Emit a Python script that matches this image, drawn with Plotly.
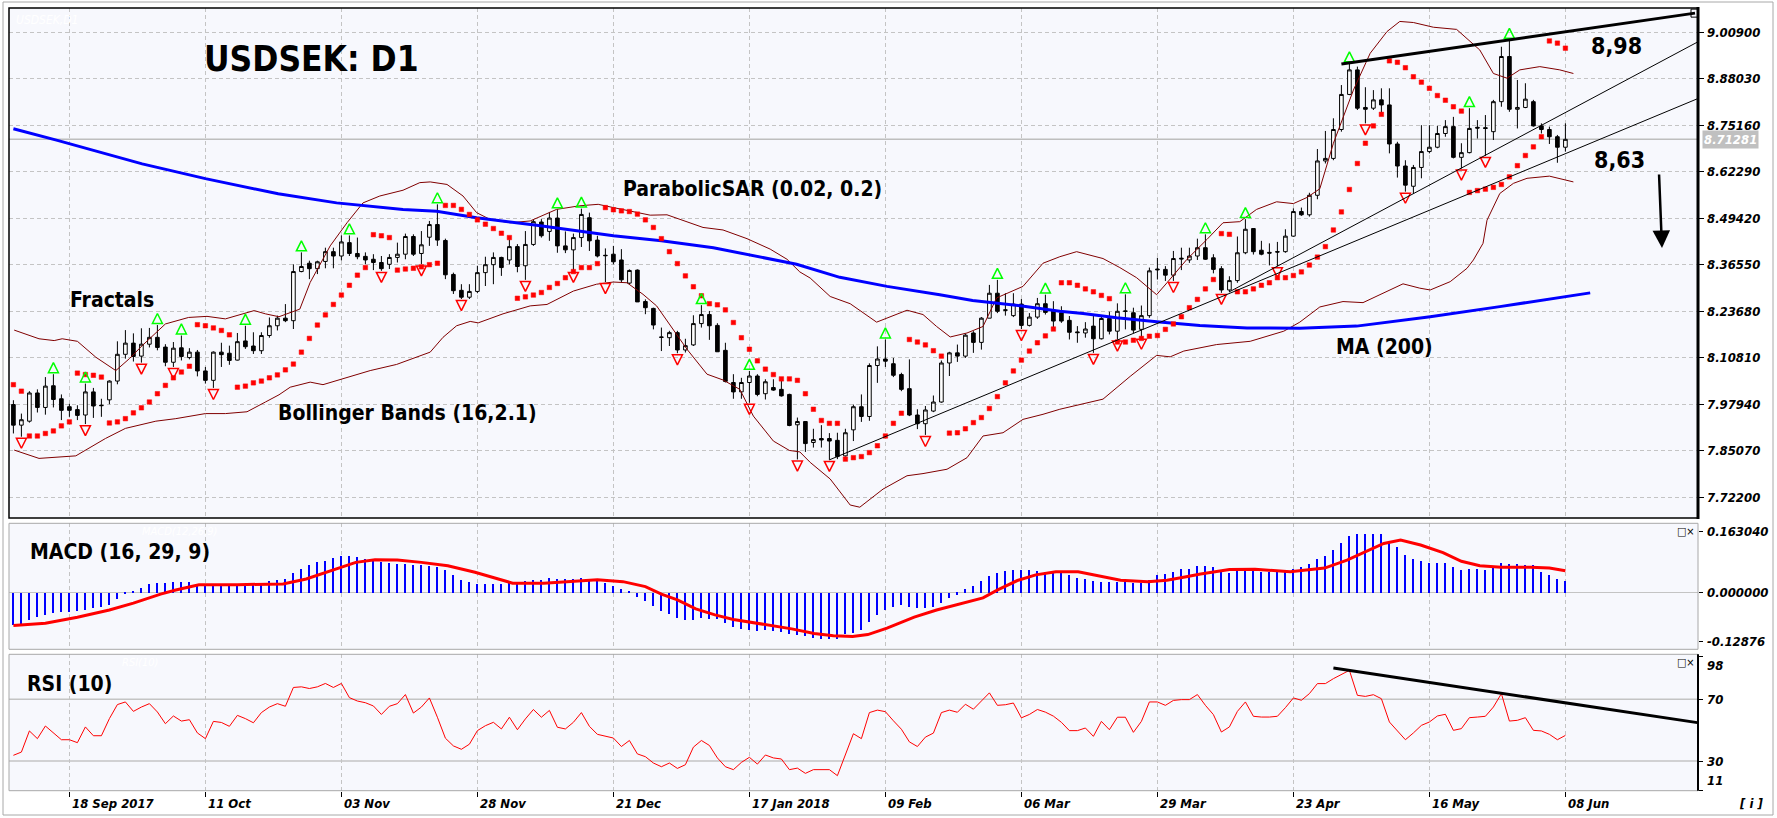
import plotly.graph_objects as go

# ---------------- DATA ----------------
opens = [
 7.979,7.922,7.933,8.011,7.971,8.031,7.995,7.973,7.965,7.950,
 8.014,7.977,7.992,8.044,8.118,8.149,8.113,8.146,8.165,8.138,
 8.096,8.136,8.109,8.124,8.072,8.046,8.124,8.121,8.102,8.155,
 8.141,8.128,8.170,8.197,8.218,8.211,8.347,8.370,8.355,8.375,
 8.402,8.390,8.427,8.397,8.389,8.381,8.372,8.367,8.386,8.395,
 8.444,8.397,8.442,8.477,8.433,8.339,8.295,8.276,8.292,8.344,
 8.366,8.386,8.379,8.416,8.363,8.422,8.484,8.458,8.495,8.418,
 8.407,8.441,8.496,8.434,8.392,8.395,8.379,8.315,8.351,8.264,
 8.245,8.166,8.164,8.178,8.130,8.144,8.203,8.228,8.198,8.129,
 8.040,8.014,8.040,8.058,8.009,8.026,8.021,8.007,7.923,7.932,
 7.874,7.885,7.885,7.880,7.837,7.909,7.973,7.946,8.087,8.105,
 8.092,8.062,8.023,7.950,7.926,7.961,7.986,8.094,8.122,8.113,
 8.177,8.151,8.218,8.287,8.241,8.225,8.257,8.198,8.221,8.258,
 8.239,8.233,8.212,8.180,8.177,8.196,8.161,8.217,8.182,8.238,
 8.233,8.187,8.225,8.354,8.353,8.337,8.384,8.379,8.390,8.413,
 8.385,8.355,8.296,8.322,8.399,8.466,8.406,8.400,8.402,8.402,
 8.445,8.513,8.504,8.558,8.653,8.660,8.740,8.837,8.905,8.801,
 8.799,8.822,8.808,8.700,8.639,8.583,8.635,8.679,8.691,8.729,
 8.748,8.663,8.676,8.746,8.745,8.734,8.817,8.942,8.796,8.801,
 8.817,8.750,8.740,8.720,8.691]
highs = [
 7.991,7.954,8.016,8.021,8.055,8.063,8.007,7.981,7.977,8.037,
 8.025,7.995,8.046,8.154,8.185,8.176,8.190,8.191,8.199,8.146,
 8.152,8.170,8.135,8.130,8.083,8.126,8.150,8.142,8.177,8.197,
 8.179,8.179,8.220,8.225,8.257,8.367,8.400,8.377,8.377,8.413,
 8.413,8.447,8.447,8.441,8.400,8.395,8.390,8.395,8.427,8.452,
 8.450,8.459,8.487,8.533,8.438,8.344,8.312,8.312,8.363,8.388,
 8.400,8.388,8.436,8.423,8.459,8.491,8.492,8.512,8.519,8.458,
 8.452,8.521,8.510,8.446,8.411,8.418,8.409,8.353,8.353,8.270,
 8.247,8.192,8.183,8.183,8.161,8.226,8.254,8.238,8.204,8.150,
 8.063,8.053,8.072,8.063,8.049,8.049,8.049,8.009,7.943,7.932,
 7.912,7.922,7.900,7.901,7.912,7.979,8.007,8.093,8.140,8.159,
 8.108,8.067,8.104,7.966,7.975,8.004,8.101,8.125,8.145,8.175,
 8.182,8.221,8.310,8.324,8.287,8.287,8.271,8.232,8.274,8.283,
 8.265,8.251,8.224,8.196,8.207,8.224,8.224,8.236,8.259,8.284,
 8.247,8.253,8.358,8.385,8.362,8.404,8.413,8.413,8.438,8.450,
 8.395,8.362,8.334,8.444,8.492,8.466,8.432,8.425,8.429,8.464,
 8.522,8.524,8.565,8.686,8.736,8.771,8.863,8.923,8.914,8.857,
 8.849,8.854,8.854,8.706,8.655,8.642,8.752,8.752,8.750,8.766,
 8.775,8.702,8.799,8.766,8.780,8.822,8.969,8.988,8.877,8.868,
 8.822,8.757,8.748,8.725,8.757]
lows = [
 7.899,7.890,7.929,7.957,7.951,7.971,7.936,7.945,7.936,7.925,
 7.942,7.945,7.980,8.035,8.106,8.098,8.095,8.137,8.129,8.085,
 8.083,8.101,8.104,8.057,8.037,8.025,8.083,8.089,8.101,8.133,
 8.119,8.119,8.164,8.184,8.207,8.188,8.345,8.326,8.340,8.356,
 8.356,8.378,8.390,8.381,8.367,8.351,8.349,8.354,8.372,8.381,
 8.390,8.367,8.418,8.418,8.326,8.285,8.271,8.271,8.287,8.307,
 8.312,8.335,8.367,8.345,8.324,8.418,8.441,8.432,8.399,8.398,
 8.349,8.415,8.404,8.386,8.318,8.367,8.316,8.312,8.263,8.229,
 8.187,8.127,8.141,8.121,8.123,8.141,8.192,8.158,8.125,8.040,
 7.995,7.995,7.984,8.002,7.993,8.017,8.001,7.919,7.827,7.848,
 7.860,7.860,7.826,7.828,7.835,7.878,7.931,7.934,8.039,8.083,
 8.055,8.016,7.947,7.911,7.895,7.958,7.984,8.058,8.097,8.108,
 8.122,8.131,8.218,8.232,8.225,8.221,8.188,8.195,8.216,8.228,
 8.187,8.205,8.159,8.150,8.164,8.122,8.159,8.173,8.159,8.187,
 8.177,8.164,8.219,8.325,8.321,8.321,8.351,8.371,8.379,8.379,
 8.342,8.288,8.290,8.316,8.395,8.394,8.392,8.364,8.362,8.399,
 8.443,8.501,8.499,8.547,8.646,8.655,8.734,8.835,8.794,8.757,
 8.794,8.780,8.674,8.607,8.568,8.563,8.605,8.674,8.688,8.720,
 8.660,8.632,8.674,8.715,8.667,8.711,8.803,8.789,8.743,8.799,
 8.748,8.729,8.700,8.648,8.679]
closes = [
 7.922,7.937,8.011,7.971,8.030,7.993,7.963,7.963,7.949,8.014,
 7.975,7.976,8.044,8.118,8.149,8.112,8.146,8.165,8.137,8.096,
 8.135,8.112,8.124,8.072,8.046,8.124,8.117,8.101,8.153,8.139,
 8.128,8.170,8.197,8.218,8.211,8.347,8.361,8.355,8.374,8.402,
 8.390,8.429,8.397,8.388,8.379,8.372,8.355,8.386,8.395,8.444,
 8.395,8.421,8.477,8.434,8.338,8.294,8.276,8.292,8.344,8.366,
 8.386,8.358,8.416,8.361,8.422,8.485,8.446,8.495,8.418,8.407,
 8.441,8.505,8.432,8.390,8.391,8.374,8.324,8.350,8.263,8.247,
 8.199,8.165,8.178,8.130,8.142,8.203,8.228,8.197,8.125,8.043,
 8.014,8.040,8.058,8.007,8.042,8.019,8.003,7.921,7.932,7.871,
 7.882,7.881,7.878,7.835,7.901,7.973,7.946,8.087,8.105,8.099,
 8.060,8.021,7.950,7.926,7.964,7.986,8.094,8.122,8.113,8.171,
 8.151,8.218,8.287,8.237,8.240,8.257,8.198,8.221,8.258,8.234,
 8.210,8.210,8.179,8.178,8.188,8.161,8.217,8.182,8.237,8.237,
 8.185,8.225,8.349,8.352,8.337,8.383,8.382,8.390,8.413,8.381,
 8.353,8.296,8.322,8.399,8.464,8.402,8.395,8.398,8.401,8.445,
 8.513,8.504,8.558,8.653,8.660,8.740,8.837,8.905,8.799,8.796,
 8.822,8.808,8.700,8.639,8.586,8.635,8.679,8.691,8.729,8.748,
 8.663,8.676,8.743,8.744,8.743,8.817,8.942,8.796,8.801,8.824,
 8.750,8.740,8.720,8.691,8.71281]

sar = [
 8.034,8.016,7.892,7.892,7.899,7.906,7.920,7.931,8.066,8.062,
 8.060,8.055,7.928,7.931,7.940,7.956,7.970,7.986,8.009,8.032,
 8.053,8.069,8.085,8.200,8.197,8.191,8.184,8.172,8.027,8.030,
 8.039,8.044,8.053,8.061,8.075,8.091,8.124,8.162,8.199,8.227,
 8.256,8.282,8.309,8.337,8.358,8.449,8.446,8.441,8.351,8.354,
 8.356,8.360,8.366,8.370,8.530,8.530,8.519,8.505,8.490,8.478,
 8.466,8.453,8.441,8.273,8.277,8.282,8.289,8.303,8.314,8.330,
 8.347,8.358,8.358,8.369,8.524,8.518,8.515,8.513,8.506,8.490,
 8.469,8.438,8.402,8.369,8.335,8.305,8.280,8.258,8.255,8.241,
 8.206,8.164,8.132,8.100,8.077,8.062,8.050,8.050,8.046,8.009,
 7.966,7.935,7.927,7.927,7.828,7.832,7.835,7.846,7.865,7.892,
 7.927,7.955,8.159,8.152,8.144,8.128,8.113,7.900,7.901,7.912,
 7.929,7.943,7.968,8.001,8.039,8.072,8.102,8.127,8.150,8.169,
 8.188,8.316,8.316,8.309,8.299,8.291,8.281,8.272,8.152,8.152,
 8.157,8.162,8.168,8.170,8.187,8.202,8.222,8.247,8.270,8.299,
 8.325,8.452,8.450,8.291,8.291,8.299,8.309,8.316,8.330,8.330,
 8.336,8.346,8.365,8.387,8.416,8.462,8.512,8.574,8.646,8.702,
 8.750,8.782,8.930,8.926,8.911,8.886,8.871,8.854,8.834,8.821,
 8.803,8.791,8.566,8.571,8.575,8.580,8.588,8.609,8.640,8.668,
 8.692,8.720,8.985,8.979,8.965]

frac_up = [5, 9, 18, 21, 29, 36, 42, 53, 68, 71, 86, 92, 109, 123, 129, 139, 149, 154, 167, 182, 187]
frac_dn = [1, 9, 16, 20, 25, 46, 51, 56, 64, 70, 74, 83, 92, 98, 102, 114, 126, 135, 138, 141, 145,
           151, 158, 169, 174, 181, 184]

ma_x = [0, 5.5, 16.1, 24, 33.1, 40.4, 48.7, 52.9, 57.9, 65.4, 75, 81, 87.5, 92.1, 97.9, 103.3, 109.2,
        115.8, 119.9, 126.3, 130.8, 133.7, 137.9, 142.9, 148.3, 154.2, 160.8, 167.9, 177.1, 185.8, 194.2, 197.1]
ma_y = [8.742, 8.710, 8.645, 8.604, 8.562, 8.537, 8.519, 8.514, 8.496, 8.475, 8.446, 8.432, 8.413, 8.392,
        8.367, 8.331, 8.306, 8.283, 8.267, 8.251, 8.237, 8.231, 8.219, 8.208, 8.198, 8.191, 8.190, 8.196,
        8.222, 8.250, 8.279, 8.288]

bbu_x = [0.1, 3.2, 5.1, 6.1, 8, 10.3, 12.8, 14.5, 16.1, 19, 21.9, 24.2, 26.5, 28.6, 30.1, 31.5, 33.2, 35.8,
         37.1, 39.6, 41.7, 43.7, 45.8, 48.7, 50.8, 52.1, 54.2, 56.2, 57.9, 59.6, 62.1, 64.6, 67.9, 70.8,
         73.1, 75, 77, 79.6, 81.7, 83.3, 86.2, 88.7, 91.7, 94.6, 96.7, 98.3, 99.6, 102.1, 104.6, 107.9,
         109.6, 111.7, 113.7, 115.4, 117.1, 119.2, 121.2, 122.9, 126.2, 128.7, 130.8, 132.9, 136.2, 138.3,
         140.4, 142.9, 144.2, 146.7, 149.2, 151.2, 153.3, 155.4, 157.9, 160, 161.7, 163.3, 165, 167.5,
         169.6, 171.7, 173.3, 175, 177.5, 180.4, 183.3, 185, 186.7, 188.3, 190.8, 193.3, 195]
bbu_y = [8.185, 8.161, 8.156, 8.161, 8.154, 8.110, 8.073, 8.106, 8.142, 8.202, 8.220, 8.223, 8.216, 8.230,
         8.239, 8.230, 8.222, 8.243, 8.317, 8.418, 8.482, 8.537, 8.556, 8.572, 8.593, 8.595, 8.588, 8.556,
         8.510, 8.491, 8.482, 8.487, 8.519, 8.529, 8.533, 8.524, 8.515, 8.503, 8.504, 8.492, 8.469, 8.462,
         8.438, 8.409, 8.381, 8.346, 8.329, 8.278, 8.258, 8.207, 8.221, 8.240, 8.228, 8.195, 8.166, 8.177,
         8.195, 8.274, 8.306, 8.370, 8.388, 8.402, 8.383, 8.358, 8.330, 8.283, 8.316, 8.381, 8.436, 8.482,
         8.485, 8.519, 8.540, 8.535, 8.552, 8.576, 8.702, 8.849, 8.951, 9.011, 9.039, 9.036, 9.023, 9.017,
         8.960, 8.895, 8.882, 8.905, 8.914, 8.905, 8.895]

bbl_x = [0.1, 3.2, 7.8, 9.4, 11.5, 14, 17.8, 20.3, 24, 26.5, 29.2, 31.5, 33.2, 34.6, 37.1, 38.7, 41.2, 44.6,
         47.9, 50.4, 52.1, 53.7, 55.4, 57.1, 58.1, 61.2, 64.6, 66.7, 70, 72.9, 75, 76.7, 78.7, 80.4, 82.5,
         84.2, 86.7, 88.7, 90.8, 92.5, 95, 97, 98.3, 99.6, 102.1, 104.6, 105.8, 108.7, 111.7, 113.7, 116.7,
         119.2, 121.2, 123.7, 126.2, 128.7, 130.8, 136.2, 139.6, 142.9, 144.6, 146.3, 150.4, 154.6, 158.8,
         160.8, 163.3, 166.2, 168.7, 171.2, 173.7, 175.8, 177.1, 179.6, 181.7, 182.5, 183.7, 184.2, 185.8,
         187.5, 189.2, 192, 195]
bbl_y = [7.853, 7.830, 7.837, 7.857, 7.885, 7.913, 7.933, 7.940, 7.954, 7.954, 7.959, 7.986, 8.006, 8.027,
         8.041, 8.034, 8.050, 8.073, 8.090, 8.110, 8.124, 8.165, 8.197, 8.209, 8.205, 8.230, 8.252, 8.256,
         8.293, 8.312, 8.318, 8.316, 8.284, 8.252, 8.187, 8.132, 8.063, 8.047, 8.021, 7.947, 7.878, 7.852,
         7.848, 7.819, 7.773, 7.701, 7.695, 7.745, 7.782, 7.788, 7.800, 7.832, 7.892, 7.901, 7.938, 7.952,
         7.966, 7.994, 8.057, 8.115, 8.111, 8.127, 8.145, 8.154, 8.182, 8.207, 8.249, 8.264, 8.261, 8.287,
         8.313, 8.301, 8.296, 8.319, 8.356, 8.379, 8.425, 8.489, 8.563, 8.591, 8.605, 8.611, 8.595]

macd_hist = [
 -0.086,-0.085,-0.073,-0.064,-0.060,-0.054,-0.051,-0.051,-0.048,-0.045,
 -0.040,-0.038,-0.033,-0.016,-0.003,0.004,0.013,0.022,0.026,0.026,
 0.028,0.028,0.027,0.019,0.017,0.017,0.017,0.017,0.020,0.022,
 0.022,0.026,0.030,0.034,0.037,0.052,0.063,0.072,0.081,0.085,
 0.092,0.096,0.096,0.094,0.090,0.085,0.081,0.078,0.077,0.075,
 0.074,0.072,0.070,0.068,0.059,0.046,0.033,0.028,0.024,0.022,
 0.022,0.024,0.028,0.028,0.030,0.033,0.033,0.040,0.037,0.035,
 0.037,0.040,0.033,0.031,0.026,0.019,0.009,0.004,-0.011,-0.022,
 -0.035,-0.048,-0.057,-0.067,-0.073,-0.073,-0.067,-0.069,-0.070,-0.080,
 -0.091,-0.096,-0.100,-0.101,-0.100,-0.101,-0.104,-0.108,-0.113,-0.115,
 -0.120,-0.122,-0.122,-0.122,-0.108,-0.107,-0.098,-0.078,-0.058,-0.045,
 -0.038,-0.033,-0.038,-0.041,-0.041,-0.038,-0.027,-0.014,-0.005,0.009,
 0.017,0.031,0.043,0.053,0.057,0.061,0.061,0.059,0.057,0.055,
 0.052,0.052,0.046,0.040,0.037,0.031,0.028,0.028,0.028,0.031,
 0.026,0.026,0.034,0.046,0.050,0.056,0.062,0.062,0.070,0.070,
 0.068,0.056,0.053,0.061,0.063,0.062,0.056,0.055,0.055,0.056,
 0.063,0.068,0.075,0.088,0.096,0.112,0.131,0.149,0.154,0.156,
 0.156,0.156,0.138,0.122,0.101,0.090,0.083,0.078,0.078,0.078,
 0.068,0.061,0.062,0.062,0.061,0.066,0.079,0.077,0.075,0.074,
 0.072,0.056,0.048,0.037,0.031]

sig_x = [0, 4, 8, 12, 15, 18.4, 20.3, 23.2, 28, 33.7, 36.6, 40, 42.8, 45.2, 48, 51, 54.3, 57.7, 60.5,
         62.4, 66.3, 70, 73, 76.2, 79, 81, 83, 85.3, 87.7, 90, 93.4, 97.3, 100.1, 102.5, 104.9, 106.8,
         109.2, 112.6, 115.4, 118.8, 121.2, 123.1, 125.5, 127.8, 130.3, 133.1, 135.5, 138.4, 141.8,
         144.2, 146.6, 148.4, 152, 155.2, 159.6, 163.9, 166.7, 169, 171.3, 173.4, 175.9, 178.7, 181,
         183.3, 186, 189.7, 192, 194]
sig_y = [-0.086, -0.080, -0.064, -0.045, -0.027, -0.003, 0.008, 0.022, 0.022, 0.024, 0.037, 0.061, 0.081,
         0.088, 0.087, 0.081, 0.072, 0.055, 0.037, 0.026, 0.026, 0.031, 0.035, 0.030, 0.017, -0.003,
         -0.018, -0.042, -0.058, -0.070, -0.082, -0.095, -0.107, -0.113, -0.115, -0.110, -0.093, -0.064,
         -0.045, -0.027, -0.013, 0.009, 0.033, 0.048, 0.056, 0.056, 0.046, 0.034, 0.030, 0.034, 0.043,
         0.050, 0.062, 0.063, 0.056, 0.066, 0.087, 0.110, 0.131, 0.140, 0.127, 0.107, 0.084, 0.072,
         0.068, 0.068, 0.066, 0.059]

rsi = [
 33.7,35.8,49.5,44.5,52.7,48.2,43.8,43.8,41.9,52.1,
 46.4,46.4,57.5,66.6,68.3,62.2,65.0,67.2,61.8,54.2,
 59.2,55.9,56.8,48.2,44.5,55.7,55.0,52.5,59.6,57.5,
 54.8,61.4,65.0,67.2,65.5,77.7,78.1,77.0,78.1,80.3,
 77.7,80.3,71.1,68.9,67.8,65.7,60.2,65.5,67.2,73.1,
 61.1,65.0,70.9,58.4,44.8,39.8,37.6,40.9,49.7,52.9,
 55.1,50.8,58.4,50.3,57.3,63.4,58.4,62.8,51.9,50.8,
 55.1,61.4,52.5,47.3,46.0,44.9,39.4,43.3,34.6,32.8,
 28.7,26.3,28.7,25.2,27.6,39.0,43.3,40.1,32.0,26.3,
 24.4,29.1,32.4,28.0,33.9,32.0,31.3,24.4,25.4,22.0,
 24.4,24.4,24.4,20.5,34.6,47.7,44.5,61.4,63.0,62.0,
 56.1,50.6,42.4,39.4,45.5,48.1,61.4,63.0,61.6,66.8,
 63.6,69.1,74.2,66.1,66.5,67.6,58.0,60.2,63.4,61.7,
 59.1,55.1,49.7,49.7,51.4,46.0,55.7,50.3,58.4,58.4,
 48.6,55.7,68.3,68.3,66.1,69.3,69.8,69.8,73.1,66.1,
 60.1,48.8,52.1,62.2,68.3,59.0,58.5,58.5,59.0,64.6,
 70.9,69.4,73.7,80.2,80.2,83.4,86.2,88.8,72.6,71.9,
 73.0,70.4,55.3,49.9,43.8,48.2,53.1,55.3,59.2,60.3,
 49.9,51.0,58.1,58.5,59.0,65.0,73.7,55.9,56.4,58.1,
 49.9,49.5,47.3,43.8,46.6]

# drawn trend lines (bar index, value)
res_x, res_y = [166, 210.2], [8.921, 9.062]
chanA_x, chanA_y = [152, 210.6], [8.291, 8.983]
chanB_x, chanB_y = [102, 210.6], [7.826, 8.826]
rsiline_x, rsiline_y = [165, 210.5], [90.3, 54.9]

price_ticks = [9.00900, 8.88030, 8.75160, 8.62290, 8.49420, 8.36550, 8.23680, 8.10810, 7.97940, 7.85070, 7.72200]
macd_ticks = [0.163040, 0.0, -0.128760]
macd_tick_text = ["0.163040", "0.000000", "-0.12876"]
rsi_ticks = [98, 70, 30, 11]
rsi_levels = [70, 30]
date_idx = [7, 24, 41, 58, 75, 92, 109, 126, 143, 160, 177, 194]
date_labels = ["18 Sep 2017", "11 Oct", "03 Nov", "28 Nov", "21 Dec", "17 Jan 2018", "09 Feb",
               "06 Mar", "29 Mar", "23 Apr", "16 May", "08 Jun"]
level_labels = ["8,98", "8,63"]

for arr in (opens, highs, lows, closes, sar, macd_hist, rsi):
    assert len(arr) == 195, len(arr)

# ---------------- FIGURE ----------------
W, H = 1777, 818
def px(x): return x / W
def py(y): return 1 - y / H

FONT = "DejaVu Sans Condensed, DejaVu Sans"
bar_x = list(range(len(closes)))
frac_off = 0.032

fig = go.Figure()
fig.add_trace(go.Scatter(x=bbu_x, y=bbu_y, mode="lines", line=dict(color="#800000", width=1), yaxis="y"))
fig.add_trace(go.Scatter(x=bbl_x, y=bbl_y, mode="lines", line=dict(color="#800000", width=1), yaxis="y"))
fig.add_trace(go.Candlestick(
    x=bar_x, open=opens, high=highs, low=lows, close=closes, yaxis="y", whiskerwidth=0,
    increasing=dict(line=dict(color="black", width=1), fillcolor="white"),
    decreasing=dict(line=dict(color="black", width=1), fillcolor="black")))
fig.add_trace(go.Scatter(x=ma_x, y=ma_y, mode="lines", line=dict(color="#0000FF", width=3), yaxis="y"))
fig.add_trace(go.Scatter(x=bar_x, y=sar, mode="markers", yaxis="y",
                         marker=dict(symbol="square", size=4.5, color="#FF0000",
                                     line=dict(color="#FF0000", width=0.5))))
fig.add_trace(go.Scatter(x=frac_up, y=[highs[i] + frac_off for i in frac_up], mode="markers", yaxis="y",
                         marker=dict(symbol="arrow-up-open", size=10, color="#00FF00",
                                     line=dict(color="#00FF00", width=1.5))))
fig.add_trace(go.Scatter(x=frac_dn, y=[lows[i] - frac_off for i in frac_dn], mode="markers", yaxis="y",
                         marker=dict(symbol="arrow-down-open", size=10, color="#FF0000",
                                     line=dict(color="#FF0000", width=1.5))))
fig.add_trace(go.Scatter(x=res_x, y=res_y, mode="lines", line=dict(color="black", width=3), yaxis="y"))
fig.add_trace(go.Scatter(x=[res_x[-1]], y=[res_y[-1]], mode="markers", yaxis="y",
                         marker=dict(symbol="square-open", size=8, color="black", line=dict(width=1))))
fig.add_trace(go.Scatter(x=chanA_x, y=chanA_y, mode="lines", line=dict(color="black", width=1), yaxis="y"))
fig.add_trace(go.Scatter(x=chanB_x, y=chanB_y, mode="lines", line=dict(color="black", width=1), yaxis="y"))

# MACD
fig.add_trace(go.Bar(x=bar_x, y=macd_hist, yaxis="y2", width=0.18,
                     marker=dict(color="#0000FF", line=dict(width=0))))
fig.add_trace(go.Scatter(x=sig_x, y=sig_y, mode="lines", line=dict(color="#FF0000", width=3), yaxis="y2"))
# RSI
fig.add_trace(go.Scatter(x=bar_x, y=rsi, mode="lines", line=dict(color="#FF0000", width=1), yaxis="y3"))
fig.add_trace(go.Scatter(x=rsiline_x, y=rsiline_y, mode="lines", line=dict(color="black", width=3), yaxis="y3"))

GRID = "#C4C4C4"
fig.update_layout(
    width=W, height=H, margin=dict(l=0, r=0, t=0, b=0),
    paper_bgcolor="white", plot_bgcolor="#F7F8FD",
    showlegend=False, hovermode=False, boxgap=0.35, bargap=0,
    xaxis=dict(domain=[px(9), px(1698)], range=[-0.55, 210.575], anchor="y3",
               showgrid=True, gridcolor=GRID, griddash="4px,3px", gridwidth=1,
               tickmode="array", tickvals=date_idx, ticks="outside", ticklen=5, tickcolor="black",
               showticklabels=False, zeroline=False, showline=False,
               rangeslider=dict(visible=False), fixedrange=True),
    yaxis=dict(domain=[py(518), py(8)], range=[7.6651, 9.0762], side="right", anchor="x",
               tickmode="array", tickvals=price_ticks, ticks="outside", ticklen=5, tickcolor="black",
               showticklabels=False, showgrid=True, gridcolor=GRID, griddash="4px,3px",
               zeroline=False, showline=False),
    yaxis2=dict(domain=[py(649.3), py(523.3)], range=[-0.149, 0.1844], side="right", anchor="x",
                tickmode="array", tickvals=macd_ticks, ticks="outside", ticklen=4, tickcolor="black",
                showticklabels=False, showgrid=False, zeroline=True, zerolinecolor=GRID,
                zerolinewidth=1, showline=False),
    yaxis3=dict(domain=[py(790.7), py(654.3)], range=[10.75, 99.2], side="right", anchor="x",
                tickmode="array", tickvals=rsi_ticks, ticks="outside", ticklen=4, tickcolor="black",
                showticklabels=False, showgrid=False, zeroline=False, showline=False),
)

shapes = []
# window frame
shapes.append(dict(type="rect", xref="paper", yref="paper", x0=px(3), x1=px(1773), y0=py(815), y1=py(2),
                   line=dict(color="#A8A8A8", width=1), layer="below"))
# current price line
shapes.append(dict(type="line", xref="paper", yref="y", x0=px(9), x1=px(1698), y0=closes[-1], y1=closes[-1],
                   line=dict(color="#BEBEBE", width=1.5), layer="below"))
# RSI levels
for lv in rsi_levels:
    shapes.append(dict(type="line", xref="paper", yref="y3", x0=px(9), x1=px(1698), y0=lv, y1=lv,
                       line=dict(color=GRID, width=1.5), layer="below"))
# panel borders
shapes.append(dict(type="rect", xref="paper", yref="paper", x0=px(9), x1=px(1698), y0=py(518), y1=py(8),
                   line=dict(color="black", width=1.5)))
shapes.append(dict(type="line", xref="paper", yref="paper", x0=px(1698), x1=px(1698), y0=py(519), y1=py(7),
                   line=dict(color="black", width=3)))
shapes.append(dict(type="rect", xref="paper", yref="paper", x0=px(9), x1=px(1698), y0=py(649.3), y1=py(523.3),
                   line=dict(color="#A8A8A8", width=1)))
shapes.append(dict(type="rect", xref="paper", yref="paper", x0=px(9), x1=px(1698), y0=py(790.7), y1=py(654.3),
                   line=dict(color="#A8A8A8", width=1)))
shapes.append(dict(type="line", xref="paper", yref="paper", x0=px(1698), x1=px(1698), y0=py(790.7), y1=py(654.3),
                   line=dict(color="black", width=2)))
fig.update_layout(shapes=shapes)

ann = []
def label(x, y, text, size, color="black", xref="paper", yref="paper", **kw):
    d = dict(x=x, y=y, xref=xref, yref=yref, text=text, showarrow=False, xanchor="left",
             yanchor="middle", font=dict(family=FONT, size=size, color=color))
    d.update(kw)
    ann.append(d)

# right axis labels
for v in price_ticks:
    label(px(1705), v, "<b><i>%.5f</i></b>" % v, 13, yref="y")
for v, t in zip(macd_ticks, macd_tick_text):
    label(px(1705), v, "<b><i>%s</i></b>" % t, 13, yref="y2")
for v in rsi_ticks:
    anchor = "top" if v == max(rsi_ticks) else ("bottom" if v == min(rsi_ticks) else "middle")
    label(px(1705), v, "<b><i>%d</i></b>" % v, 13, yref="y3", yanchor=anchor)
# current price box
label(px(1702), closes[-1], "<b><i>%.5f</i></b>" % closes[-1], 13, color="white", yref="y",
      bgcolor="#C0C0C0", borderpad=1)
# date labels
for i, t in zip(date_idx, date_labels):
    label(i, py(803), "<b><i>%s</i></b>" % t, 13, xref="x", xshift=1)
label(px(1737), py(803), "<b><i>[ i ]</i></b>", 13)

# chart texts
label(px(202), py(59), "<b>USDSEK: D1</b>", 35)
label(px(68), py(300), "<b>Fractals</b>", 21)
label(px(621), py(189), "<b>ParabolicSAR (0.02, 0.2)</b>", 21)
label(px(276), py(413), "<b>Bollinger Bands (16,2.1)</b>", 21)
label(px(1334), py(347), "<b>MA (200)</b>", 21)
label(px(1589), py(46), "<b>%s</b>" % level_labels[0], 23)
label(px(1592), py(160), "<b>%s</b>" % level_labels[1], 23)
label(px(28), py(552), "<b>MACD (16, 29, 9)</b>", 21)
label(px(25), py(684), "<b>RSI (10)</b>", 21)
# faint MT4 captions (white on the panel background)
label(px(14), py(20), "<i>USDSEK,D1</i>", 12, color="white")
label(px(140), py(531), "<i>MACD(12,26,9)</i>", 11, color="white")
label(px(120), py(662), "<i>RSI(10)</i>", 11, color="white")
# window buttons
label(px(1675), py(531), "□×", 11)
label(px(1675), py(662), "□×", 11)
# down arrow
ann.append(dict(x=px(1662), y=py(248), xref="paper", yref="paper", text="", showarrow=True,
                ax=-3, ay=-75, arrowhead=2, arrowsize=1.4, arrowwidth=2.5, arrowcolor="black"))
fig.update_layout(annotations=ann)

fig.write_html("out.html")
